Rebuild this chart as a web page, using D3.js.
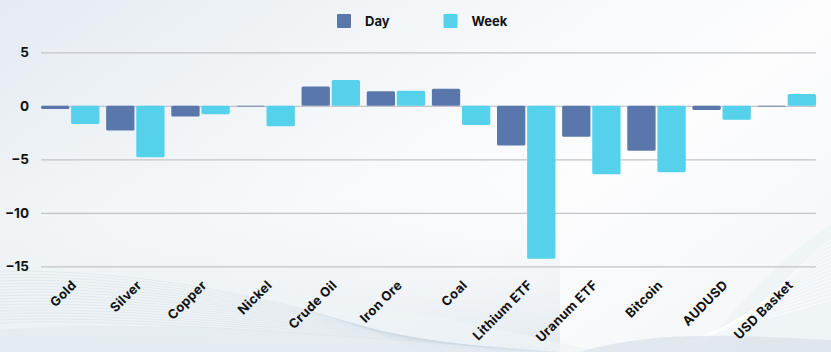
<!DOCTYPE html>
<html>
<head>
<meta charset="utf-8">
<script src="https://cdn.jsdelivr.net/npm/d3@7"></script>
<style>
  html,body{margin:0;padding:0;}
  body{width:831px;height:352px;overflow:hidden;}
  text{font-family:Inter, "Open Sans", sans-serif;font-weight:700;fill:#111;}
</style>
</head>
<body>
<div id="chart"></div>
<script>
const categories=["Gold","Silver","Copper","Nickel","Crude Oil","Iron Ore","Coal","Lithium ETF","Uranum ETF","Bitcoin","AUDUSD","USD Basket"];
const dayValues=[-0.3,-2.3,-1.0,-0.05,1.8,1.35,1.6,-3.7,-2.9,-4.2,-0.4,-0.05];
const weekValues=[-1.7,-4.8,-0.8,-1.9,2.4,1.4,-1.8,-14.3,-6.4,-6.2,-1.3,1.1];
const yTicks=[5,0,-5,-10,-15];
const seriesNames=["Day","Week"];
const colors=["#5a77ac","#55d1ec"];

const w=831, h=352;
const plotLeft=41, plotRight=816, plotTop=52.3, plotBottom=266.3;

const svg=d3.select("#chart").append("svg").attr("width",w).attr("height",h);

// background
const defs=svg.append("defs");
const bg=defs.append("linearGradient").attr("id","bg").attr("x1","0").attr("y1","0").attr("x2","1").attr("y2","0.6");
bg.append("stop").attr("offset","0").attr("stop-color","#e4ebf1");
bg.append("stop").attr("offset","0.45").attr("stop-color","#f5f8fa");
bg.append("stop").attr("offset","0.75").attr("stop-color","#fdfdfe");
bg.append("stop").attr("offset","1").attr("stop-color","#f6f8fa");
svg.append("rect").attr("width",w).attr("height",h).attr("fill","url(#bg)");

const bg2=defs.append("linearGradient").attr("id","bg2").attr("x1","0").attr("y1","0").attr("x2","0").attr("y2","1");
bg2.append("stop").attr("offset","0").attr("stop-color","#ffffff").attr("stop-opacity","0");
bg2.append("stop").attr("offset","1").attr("stop-color","#d9e3eb").attr("stop-opacity","0.7");
svg.append("rect").attr("y",150).attr("width",560).attr("height",202).attr("fill","url(#bg2)");

// decorative waves
const waves=svg.append("g");
waves.append("path").attr("d","M0,268 C140,262 380,300 600,352 L0,352 Z").attr("fill","#eef3f7").attr("opacity",0.7);
for(let i=0;i<18;i++){
  waves.append("path")
    .attr("d",`M0,${272+i*3} C120,${266+i*3} 330,${302+i*2} ${420+i*8},352`)
    .attr("fill","none").attr("stroke","#c9d5df").attr("stroke-opacity",0.45).attr("stroke-width",0.7);
}
waves.append("path").attr("d","M0,330 C120,320 330,330 520,352 L0,352 Z").attr("fill","#dfe7ee").attr("opacity",0.5);
waves.append("path").attr("d","M831,225 C790,250 740,300 700,352 L831,352 Z").attr("fill","#eef2f6").attr("opacity",0.8);
for(let i=0;i<16;i++){
  waves.append("path")
    .attr("d",`M831,${240+i*4} C${800-i*3},${262+i*4} ${760-i*4},${305+i*2} ${735-i*5},352`)
    .attr("fill","none").attr("stroke","#ffffff").attr("stroke-opacity",0.8).attr("stroke-width",0.9);
}
waves.append("path").attr("d","M580,352 C650,330 740,335 831,340 L831,352 Z").attr("fill","#d9e1e8").attr("opacity",0.7);

// scales
const x0=d3.scaleBand().domain(categories).range([plotLeft,plotRight]).paddingInner(0.103).paddingOuter(0);
const x1=d3.scaleBand().domain(seriesNames).range([0,x0.bandwidth()]).paddingInner(0.06);
const y=d3.scaleLinear().domain([-15,5]).range([plotBottom,plotTop]);

// grid
const yAxis=d3.axisLeft(y).tickValues(yTicks).tickSize(-(plotRight-plotLeft)).tickPadding(12).tickFormat(d=>d<0?"\u2212"+Math.abs(d):d);
const ga=svg.append("g").attr("transform",`translate(${plotLeft},0)`).call(yAxis);
ga.select(".domain").remove();
ga.selectAll(".tick line").attr("stroke","#c2c3c8").attr("stroke-width",1.3);
ga.selectAll(".tick text").attr("font-size",13.5).attr("x",-12).style("font-family","Inter, sans-serif").style("font-weight",700).attr("fill","#111");

// bars
const rows=categories.map((c,i)=>({cat:c,vals:[dayValues[i],weekValues[i]]}));
const groups=svg.append("g").selectAll("g").data(rows).enter().append("g")
  .attr("transform",d=>`translate(${x0(d.cat)},0)`);
groups.selectAll("rect").data(d=>d.vals.map((v,j)=>({v,j}))).enter().append("rect")
  .attr("x",d=>x1(seriesNames[d.j]))
  .attr("width",x1.bandwidth())
  .attr("y",d=>Math.min(y(d.v),y(0)))
  .attr("height",d=>Math.max(Math.abs(y(d.v)-y(0)),0.8))
  .attr("rx",1.5)
  .attr("fill",d=>colors[d.j]);

// x labels
svg.append("g").selectAll("text").data(categories).enter().append("text")
  .attr("text-anchor","end")
  .attr("font-size",13)
  .attr("letter-spacing",0.3)
  .attr("transform",d=>`translate(${x0(d)+x0.bandwidth()/2+7},${286}) rotate(-45)`)
  .text(d=>d);

// legend
const legendX=[337,443.5];
const lg=svg.append("g");
seriesNames.forEach((s,i)=>{
  lg.append("rect").attr("x",legendX[i]).attr("y",14).attr("width",14).attr("height",14).attr("rx",1).attr("fill",colors[i]);
  lg.append("text").attr("x",legendX[i]+28).attr("y",25.5).attr("font-size",13).text(s);
});
</script>
</body>
</html>
